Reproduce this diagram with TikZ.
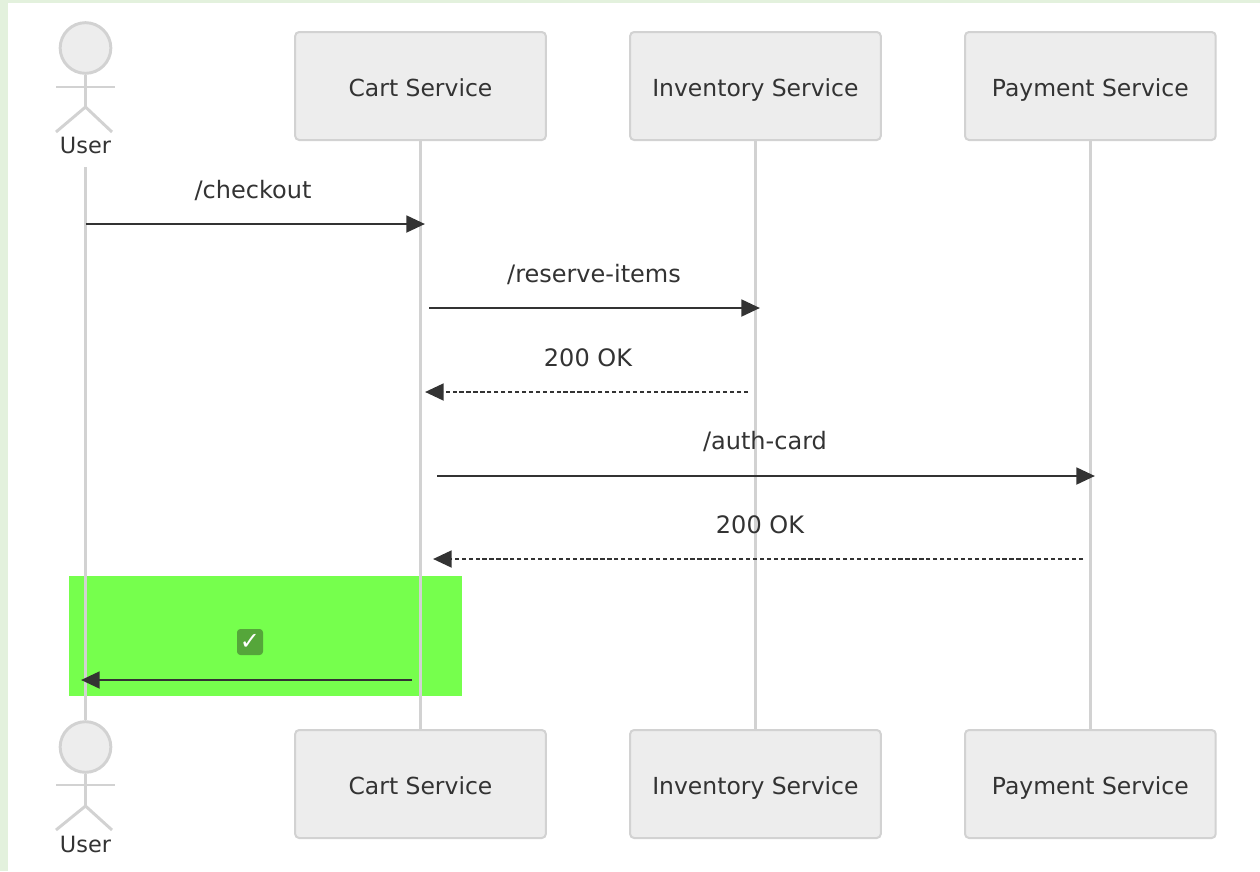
\documentclass[tikz,border=0pt]{standalone}
\usepackage{fontspec}
\setmainfont{DejaVu Sans}
\newfontfamily\tickfont{DejaVu Sans}
\usetikzlibrary{arrows.meta,positioning}
\definecolor{lineGray}{HTML}{D2D2D2}
\definecolor{boxFill}{HTML}{EDEDED}
\definecolor{inkDark}{HTML}{333333}
\definecolor{pageGreen}{HTML}{E3F1DD}
\definecolor{noteGreen}{HTML}{76FF4D}
\definecolor{tickGreen}{HTML}{55A63A}
\tikzset{
  service/.style={draw=lineGray, line width=1.5pt, fill=boxFill, rounded corners=3pt, minimum width=188pt, minimum height=81pt, text=inkDark, text height=16.5pt, text depth=1.5pt, font=\fontsize{17.6}{20}\selectfont},
  lifeline/.style={draw=lineGray, line width=2.2pt},
  head/.style={circle, draw=lineGray, line width=2.2pt, fill=boxFill, minimum size=38pt, inner sep=0pt},
  limb/.style={draw=lineGray, line width=2.2pt},
  actorname/.style={text=inkDark, inner sep=0pt, text height=12.5pt, text depth=1.5pt, font=\fontsize{16.8}{20}\selectfont},
  msg/.style={text=inkDark, inner sep=0pt, text height=14pt, text depth=1.5pt, font=\fontsize{18}{20}\selectfont},
  call/.style={draw=inkDark, line width=2.2pt, -{Triangle[length=14pt,width=12.5pt]}},
  reply/.style={call, dash pattern=on 3.2pt off 2pt},
}
\begin{document}
\begin{tikzpicture}[x=0.75pt, y=-0.75pt]
  \useasboundingbox (0,0) rectangle (1260,871);
  \fill[pageGreen] (0,0) rectangle (1260,871);
  \fill[white] (8,3) rectangle (1260,871);

  \fill[noteGreen] (69,576) rectangle (462,696);

  \node (cartTop) [service] at (420.5,86) {Cart Service};
  \node (invTop) [service, right=61.7pt of cartTop] {Inventory Service};
  \node (payTop) [service, right=61.7pt of invTop] {Payment Service};
  \node (cartEnd) [service] at (420.5,784) {Cart Service};
  \node (invEnd) [service, right=61.7pt of cartEnd] {Inventory Service};
  \node (payEnd) [service, right=61.7pt of invEnd] {Payment Service};

  % top actor
  \node (userHead) [head] at (85.5,48) {};
  \coordinate (userHip) at (85.5,107);
  \coordinate (armL) at (56,87);
  \coordinate (armR) at (115,87);
  \coordinate (legL) at (56,132);
  \coordinate (legR) at (112,132);
  \draw[limb] (userHead.south) -- (userHip);
  \draw[limb] (armL) -- (armR);
  \draw[limb] (legL) -- (userHip) -- (legR);
  \node (userTop) [actorname] at (85.5,146) {User};

  % bottom actor
  \node (userHeadEnd) [head] at (85.5,747) {};
  \coordinate (userHipEnd) at (85.5,806);
  \coordinate (armLEnd) at (56,785);
  \coordinate (armREnd) at (115,785);
  \coordinate (legLEnd) at (56,830);
  \coordinate (legREnd) at (112,830);
  \draw[limb] (userHeadEnd.south) -- (userHipEnd);
  \draw[limb] (armLEnd) -- (armREnd);
  \draw[limb] (legLEnd) -- (userHipEnd) -- (legREnd);
  \node (userEnd) [actorname] at (85.5,845) {User};

  % lifelines
  \coordinate (userStart) at (85.5,167);
  \draw[lifeline] (userStart) -- (userHeadEnd.north);
  \draw[lifeline] (cartTop.south) -- (cartEnd.north);
  \draw[lifeline] (invTop.south) -- (invEnd.north);
  \draw[lifeline] (payTop.south) -- (payEnd.north);

  % messages
  \coordinate (checkoutA) at (85.5,224);
  \coordinate (checkoutB) at (425,224);
  \coordinate (reserveA) at (429,308);
  \coordinate (reserveB) at (760,308);
  \coordinate (okA) at (748,392);
  \coordinate (okB) at (425,392);
  \coordinate (authA) at (437,476);
  \coordinate (authB) at (1095,476);
  \coordinate (paidA) at (1083,559);
  \coordinate (paidB) at (433,559);
  \coordinate (doneA) at (412,680);
  \coordinate (doneB) at (81,680);

  \draw[call] (checkoutA) -- (checkoutB);
  \draw[call] (reserveA) -- (reserveB);
  \draw[reply] (okA) -- (okB);
  \draw[call] (authA) -- (authB);
  \draw[reply] (paidA) -- (paidB);
  \draw[call] (doneA) -- (doneB);

  \node (checkoutLabel) [msg] at (253,190) {/checkout};
  \node (reserveLabel) [msg] at (594,274) {/reserve-items};
  \node (okLabel) [msg] at (588,358) {200 OK};
  \node (authLabel) [msg] at (765,441) {/auth-card};
  \node (paidLabel) [msg] at (760,525) {200 OK};
  \node (tick) [fill=tickGreen, rounded corners=2.5pt, text=white, minimum size=19.5pt, inner sep=0pt, font=\tickfont\bfseries\fontsize{18}{18}\selectfont] at (250,642) {✓};
\end{tikzpicture}
\end{document}
